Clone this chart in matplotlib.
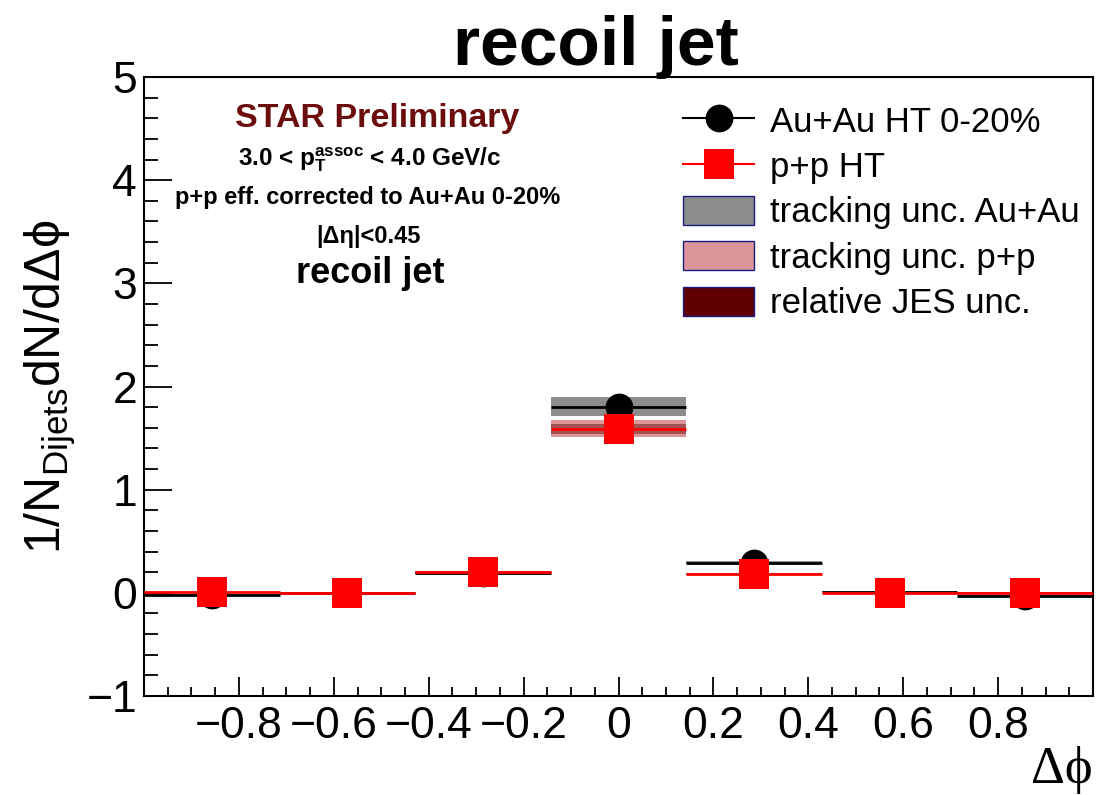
import matplotlib
matplotlib.use("Agg")
import matplotlib.pyplot as plt
from matplotlib.lines import Line2D
from matplotlib.patches import Patch
from matplotlib.ticker import MultipleLocator
import numpy as np

plt.rcParams['font.family'] = ['Liberation Sans', 'DejaVu Sans']
plt.rcParams['mathtext.fontset'] = 'custom'
plt.rcParams['mathtext.rm'] = 'Liberation Sans'
plt.rcParams['mathtext.bf'] = 'Liberation Sans:bold'
plt.rcParams['mathtext.it'] = 'Liberation Sans:italic'

# 7 bins in delta phi, from -1 to 1
bin_edges = [-1.0, -5 / 7, -3 / 7, -1 / 7, 1 / 7, 3 / 7, 5 / 7, 1.0]

auau_vals = [-0.02, -0.005, 0.19, 1.805, 0.294, 0.01, -0.026]
pp_vals = [0.005, 0.0, 0.20, 1.59, 0.18, 0.0, 0.0]
auau_trk_unc = [0.008, 0.004, 0.012, 0.09, 0.012, 0.004, 0.008]
pp_trk_unc = [0.006, 0.003, 0.012, 0.081, 0.01, 0.003, 0.006]
pp_jes_unc = [0.004, 0.002, 0.01, 0.048, 0.008, 0.002, 0.004]

edges = np.array(bin_edges)
centers = 0.5 * (edges[1:] + edges[:-1])
widths = np.diff(edges)
auau = np.array(auau_vals)
pp = np.array(pp_vals)

c_gray = '#8c8c8c'
c_pink = '#dc9599'
c_jes = '#600000'

fig = plt.figure(figsize=(10.97, 7.95), dpi=100)
ax = fig.add_axes([144 / 1097, 1 - 696 / 795, 949 / 1097, 619 / 795])

# systematic boxes
ax.bar(centers, 2 * np.array(auau_trk_unc), width=widths, bottom=auau - np.array(auau_trk_unc),
       color=c_gray, linewidth=0, zorder=1)
ax.bar(centers, 2 * np.array(pp_trk_unc), width=widths, bottom=pp - np.array(pp_trk_unc),
       color=c_pink, linewidth=0, zorder=1)
ax.bar(centers, 2 * np.array(pp_jes_unc), width=widths, bottom=pp - np.array(pp_jes_unc),
       color=c_jes, alpha=0.45, linewidth=0, zorder=2)

ax.errorbar(centers, auau, xerr=widths / 2, fmt='o', color='black', ms=20, mew=0,
            elinewidth=2, capsize=0, zorder=3)
ax.errorbar(centers, pp, xerr=widths / 2, fmt='s', color='#ff0000', ms=21, mew=0,
            elinewidth=2, capsize=0, zorder=4)

ax.set_xlim(-1, 1)
ax.set_ylim(-1, 5)
ax.xaxis.set_major_locator(MultipleLocator(0.2))
ax.xaxis.set_minor_locator(MultipleLocator(0.05))
ax.yaxis.set_major_locator(MultipleLocator(1))
ax.yaxis.set_minor_locator(MultipleLocator(0.2))
ax.set_xticks([-0.8, -0.6, -0.4, -0.2, 0, 0.2, 0.4, 0.6, 0.8])
ax.set_xticklabels(['\u22120.8', '\u22120.6', '\u22120.4', '\u22120.2', '0', '0.2', '0.4', '0.6', '0.8'])
ax.tick_params(axis='both', which='both', direction='in', labelsize=32, width=1.3)
ax.tick_params(axis='x', which='major', length=13.4, pad=7)
ax.tick_params(axis='x', which='minor', length=6.7)
ax.tick_params(axis='y', which='major', length=20.5, pad=5)
ax.tick_params(axis='y', which='minor', length=10)
for sp in ax.spines.values():
    sp.set_linewidth(1.5)

ax.set_ylabel('1/N$_{\\mathregular{Dijets}}$dN/d\u0394\u03d5', fontsize=36, labelpad=6)

fig.text(1093 / 1097, 1 - 783 / 795, '\u0394\u03d5', ha='right', va='baseline', fontsize=38,
         family=['Liberation Serif', 'DejaVu Serif'])

fig.text(596 / 1097, 1 - 65 / 795, 'recoil jet', ha='center', va='baseline',
         fontsize=50, fontweight='bold')

# labels in the upper left
fig.text(377 / 1097, 1 - 127 / 795, 'STAR Preliminary', ha='center', va='baseline',
         fontsize=24.5, fontweight='bold', color='#6b0d0d')
fig.text(370 / 1097, 1 - 166 / 795,
         '3.0 < p$_{\\mathbf{T}}^{\\mathbf{assoc}}$ < 4.0 GeV/c',
         ha='center', va='baseline', fontsize=17.5, fontweight='bold')
fig.text(368 / 1097, 1 - 204 / 795, 'p+p eff. corrected to Au+Au 0-20%', ha='center',
         va='baseline', fontsize=17, fontweight='bold')
fig.text(368 / 1097, 1 - 243 / 795, '|\u0394\u03b7|<0.45', ha='center', va='baseline',
         fontsize=17, fontweight='bold')
fig.text(370 / 1097, 1 - 283 / 795, 'recoil jet', ha='center', va='baseline',
         fontsize=26, fontweight='bold')

handles = [
    Line2D([], [], color='black', lw=1.5, marker='o', ms=20, mew=0),
    Line2D([], [], color='#ff0000', lw=1.5, marker='s', ms=21, mew=0),
    Patch(facecolor=c_gray, edgecolor='#1c1c80', lw=1),
    Patch(facecolor=c_pink, edgecolor='#1c1c80', lw=1),
    Patch(facecolor=c_jes, edgecolor='#1c1c80', lw=1),
]
labels = ['Au+Au HT 0-20%', 'p+p HT', 'tracking unc. Au+Au', 'tracking unc. p+p',
          'relative JES unc.']
fig.legend(handles, labels, loc='upper left', bbox_to_anchor=(683 / 1097, 1 - 105 / 795),
           frameon=False, fontsize=25, borderpad=0, borderaxespad=0,
           handlelength=2.05, handleheight=0.92, handletextpad=0.45, labelspacing=0.34)

fig.savefig('out.png', dpi=100)
